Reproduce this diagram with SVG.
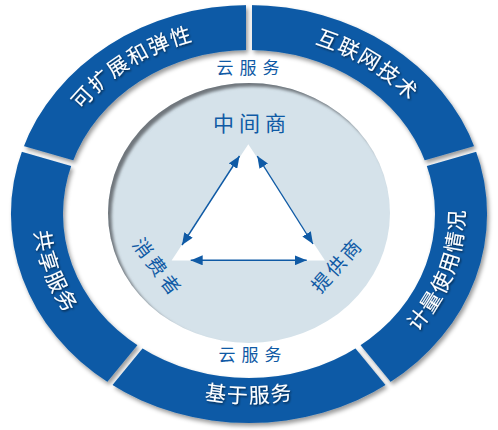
<svg xmlns="http://www.w3.org/2000/svg" width="498" height="430" viewBox="0 0 498 430">
  <style>
    .seg { fill: #0b5aa6; }
    .ringtxt { font-family: "Noto Sans CJK SC", "Noto Sans", sans-serif; font-size: 21px; fill: #ffffff; letter-spacing: 1.5px; }
    .intxt { font-family: "Noto Sans CJK SC", "Noto Sans", sans-serif; fill: #0f5aa5; }
    .conn { stroke: #0f5aa5; stroke-width: 1.4; fill: none; }
  </style>
  <defs>
    <filter id="ringShadow" x="-10%" y="-10%" width="120%" height="120%">
      <feDropShadow dx="2" dy="3" stdDeviation="2" flood-color="#000" flood-opacity="0.4"/>
    </filter>
    <filter id="txtShadow" x="-10%" y="-30%" width="120%" height="160%">
      <feDropShadow dx="1" dy="1.2" stdDeviation="0.8" flood-color="#000" flood-opacity="0.65"/>
    </filter>
    <filter id="blur" x="-10%" y="-10%" width="120%" height="120%">
      <feGaussianBlur stdDeviation="1.6"/>
    </filter>
    <mask id="gaps" maskUnits="userSpaceOnUse" x="0" y="0" width="498" height="430">
      <rect x="0" y="0" width="498" height="430" fill="#fff"/>
      <g stroke="#000" stroke-width="6">
        <line x1="249" y1="214" x2="249" y2="-16"/>
        <line x1="249" y1="214" x2="496.3" y2="142.9"/>
        <line x1="249" y1="214" x2="401.8" y2="400.1"/>
        <line x1="249" y1="214" x2="96.2" y2="400.1"/>
        <line x1="249" y1="214" x2="1.7" y2="142.9"/>
      </g>
    </mask>
    <clipPath id="coreClip">
      <ellipse cx="249" cy="213" rx="141" ry="130"/>
    </clipPath>
    <marker id="ah" viewBox="0 0 12 10" refX="12" refY="5" markerWidth="12" markerHeight="10" markerUnits="userSpaceOnUse" orient="auto-start-reverse">
      <path d="M0,0 L12,5 L0,10 Z" fill="#0f5aa5"/>
    </marker>
    <path id="pTL" d="M54,158.4 A205,180 0 0 1 249,34"/>
    <path id="pTR" d="M249,34 A205,180 0 0 1 444,158.4"/>
    <path id="pR" d="M375.6,367 A215.4,189.1 0 0 0 453.9,155.6"/>
    <path id="pB" d="M122.4,367 A215.4,189.1 0 0 0 375.6,367"/>
    <path id="pL" d="M44.1,155.6 A215.4,189.1 0 0 0 122.4,367"/>
  </defs>

  <rect x="0" y="0" width="498" height="430" fill="#ffffff"/>

  <!-- outer ring segments -->
  <g filter="url(#ringShadow)">
    <g mask="url(#gaps)">
      <g id="seg-scalability">
        <path class="seg" d="M22.6,149.4 A238,209 0 0 1 249,5 L249,50 A186,164 0 0 0 72.1,163.3 Z"/>
      </g>
      <g id="seg-internet">
        <path class="seg" d="M249,5 A238,209 0 0 1 475.4,149.4 L425.9,163.3 A186,164 0 0 0 249,50 Z"/>
      </g>
      <g id="seg-metered">
        <path class="seg" d="M475.4,149.4 A238,209 0 0 1 388.9,383.1 L358.3,346.7 A186,164 0 0 0 425.9,163.3 Z"/>
      </g>
      <g id="seg-service-based">
        <path class="seg" d="M388.9,383.1 A238,209 0 0 1 109.1,383.1 L139.7,346.7 A186,164 0 0 0 358.3,346.7 Z"/>
      </g>
      <g id="seg-shared">
        <path class="seg" d="M109.1,383.1 A238,209 0 0 1 22.6,149.4 L72.1,163.3 A186,164 0 0 0 139.7,346.7 Z"/>
      </g>
    </g>
  </g>

  <!-- ring labels -->
  <g class="ringtxt" filter="url(#txtShadow)">
    <text><textPath href="#pTL" startOffset="50%" text-anchor="middle">可扩展和弹性</textPath></text>
    <text><textPath href="#pTR" startOffset="50%" text-anchor="middle">互联网技术</textPath></text>
    <text><textPath href="#pR" startOffset="50%" text-anchor="middle">计量使用情况</textPath></text>
    <text><textPath href="#pB" startOffset="50%" text-anchor="middle">基于服务</textPath></text>
    <text><textPath href="#pL" startOffset="50%" text-anchor="middle">共享服务</textPath></text>
  </g>

  <!-- cloud service labels in white ring -->
  <g id="cloud-label-top">
    <text class="intxt" x="251" y="74" font-size="17" letter-spacing="6" text-anchor="middle">云服务</text>
  </g>
  <g id="cloud-label-bottom">
    <text class="intxt" x="253" y="361" font-size="17" letter-spacing="6" text-anchor="middle">云服务</text>
  </g>

  <!-- core disc -->
  <g id="core">
    <ellipse cx="249" cy="213" rx="141" ry="130" fill="#d5e2ea"/>
    <g clip-path="url(#coreClip)">
      <ellipse cx="252.5" cy="216.5" rx="151" ry="140" fill="none" stroke="#6f767c" stroke-width="20" filter="url(#blur)"/>
    </g>
    <polygon points="248.3,144.3 171.6,260.5 325,260.5" fill="#ffffff"/>
  </g>

  <g id="node-broker">
    <text class="intxt" x="252" y="131" font-size="21" letter-spacing="5" text-anchor="middle">中间商</text>
  </g>
  <g id="node-consumer">
    <text class="intxt" font-size="19" letter-spacing="4" text-anchor="middle" dominant-baseline="central" transform="translate(159,267) rotate(53)">消费者</text>
  </g>
  <g id="node-provider">
    <text class="intxt" font-size="19" letter-spacing="3" text-anchor="middle" dominant-baseline="central" transform="translate(336,264) rotate(-48)">提供商</text>
  </g>

  <!-- connectors -->
  <g id="connectors">
    <line class="conn" x1="182" y1="245" x2="239.5" y2="156" marker-start="url(#ah)" marker-end="url(#ah)"/>
    <line class="conn" x1="257.3" y1="156" x2="313" y2="244" marker-start="url(#ah)" marker-end="url(#ah)"/>
    <line class="conn" x1="190.7" y1="260.3" x2="306.7" y2="260.3" marker-start="url(#ah)" marker-end="url(#ah)"/>
  </g>
</svg>
